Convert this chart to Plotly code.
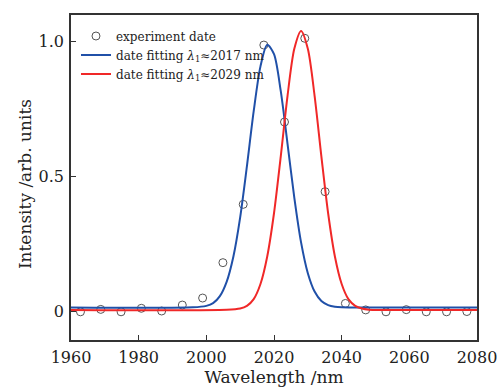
import plotly.graph_objects as go

exp_x = [1962.8, 1968.8, 1974.8, 1980.8, 1986.8, 1992.9, 1998.9, 2004.9, 2010.9, 2017.0,
         2023.1, 2029.1, 2035.1, 2041.1, 2047.1, 2053.1, 2059.1, 2065.0, 2071.0, 2077.0]
exp_y = [-0.003, 0.006, -0.003, 0.010, 0.000, 0.022, 0.048, 0.179, 0.395, 0.985,
         0.700, 1.010, 0.442, 0.028, 0.004, -0.003, 0.005, -0.003, -0.003, -0.002]

# Fitted curve samples
blue_x = [1960, 1996, 2000, 2002, 2004, 2006, 2008, 2010, 2012, 2014, 2016, 2018, 2020,
          2022, 2024, 2026, 2028, 2030, 2032, 2034, 2036, 2038, 2040, 2080]
blue_y = [0.013, 0.0135, 0.019, 0.029, 0.055, 0.108, 0.202, 0.347, 0.537, 0.740, 0.906, 0.986, 0.951,
          0.814, 0.619, 0.420, 0.254, 0.140, 0.072, 0.037, 0.022, 0.016, 0.014, 0.013]
red_x = [1960, 2006, 2010, 2012, 2014, 2016, 2018, 2020, 2022, 2024, 2026, 2028, 2030,
         2032, 2034, 2036, 2038, 2040, 2042, 2044, 2046, 2048, 2052, 2080]
red_y = [0.004, 0.0045, 0.009, 0.019, 0.044, 0.100, 0.202, 0.362, 0.573, 0.797, 0.971, 1.037, 0.971,
         0.797, 0.573, 0.362, 0.202, 0.100, 0.044, 0.019, 0.009, 0.005, 0.004, 0.004]

x_ticks = [1960, 1980, 2000, 2020, 2040, 2060, 2080]
y_ticks = [0, 0.5, 1.0]
y_tick_text = ["0", "0.5", "1.0"]

FONT = "DejaVu Serif"

fig = go.Figure()
fig.add_trace(go.Scatter(x=exp_x, y=exp_y, mode="markers", name="experiment date",
                         marker=dict(symbol="circle-open", size=8, color="#555555",
                                     line=dict(width=1, color="#555555"))))
fig.add_trace(go.Scatter(x=blue_x, y=blue_y, mode="lines",
                         name="date fitting <i>λ</i><sub>1</sub>≈2017 nm",
                         line=dict(color="#2050a8", width=2, shape="spline", smoothing=0.8)))
fig.add_trace(go.Scatter(x=red_x, y=red_y, mode="lines",
                         name="date fitting <i>λ</i><sub>1</sub>≈2029 nm",
                         line=dict(color="#f02828", width=2, shape="spline", smoothing=0.8)))

fig.update_layout(
    width=501, height=387,
    margin=dict(l=71, r=24, t=15, b=47, autoexpand=False),
    paper_bgcolor="white", plot_bgcolor="white",
    font=dict(family=FONT, size=16, color="#222222"),
    showlegend=True,
    legend=dict(x=0.0123, y=0.98, xanchor="left", yanchor="top",
                bgcolor="rgba(0,0,0,0)", borderwidth=0,
                font=dict(family=FONT, size=12, color="#222222"),
                tracegroupgap=0, itemwidth=30),
    xaxis=dict(range=[1960, 2080], tickvals=x_ticks, ticks="inside", ticklen=5,
               tickwidth=1.2, tickcolor="#333333", showline=True, linecolor="#333333",
               linewidth=1.5, mirror=True, showgrid=False, zeroline=False,
               automargin=False, ticklabelstandoff=2, ticklabeloverflow="allow",
               tickfont=dict(family=FONT, size=16),
               title=dict(text="Wavelength /nm", font=dict(family=FONT, size=17), standoff=0)),
    yaxis=dict(range=[-0.1074, 1.0963], tickvals=y_ticks, ticktext=y_tick_text,
               ticks="inside", ticklen=5, tickwidth=1.2, tickcolor="#333333",
               showline=True, linecolor="#333333", linewidth=1.5, mirror=True,
               showgrid=False, zeroline=False, automargin=False, ticklabelstandoff=2,
               tickfont=dict(family=FONT, size=16)),
    annotations=[dict(text="Intensity /arb. units", xref="paper", yref="paper",
                      x=-0.113, y=0.48, xanchor="center", yanchor="middle",
                      textangle=-90, showarrow=False,
                      font=dict(family=FONT, size=17, color="#222222"))],
)

# remove the page's default body margin so the figure fills the window exactly
fig.write_html("out.html",
               config={"displayModeBar": False},
               post_script="document.body.style.margin='0';"
                           "document.body.style.overflow='hidden';"
                           "document.documentElement.style.overflow='hidden';")
